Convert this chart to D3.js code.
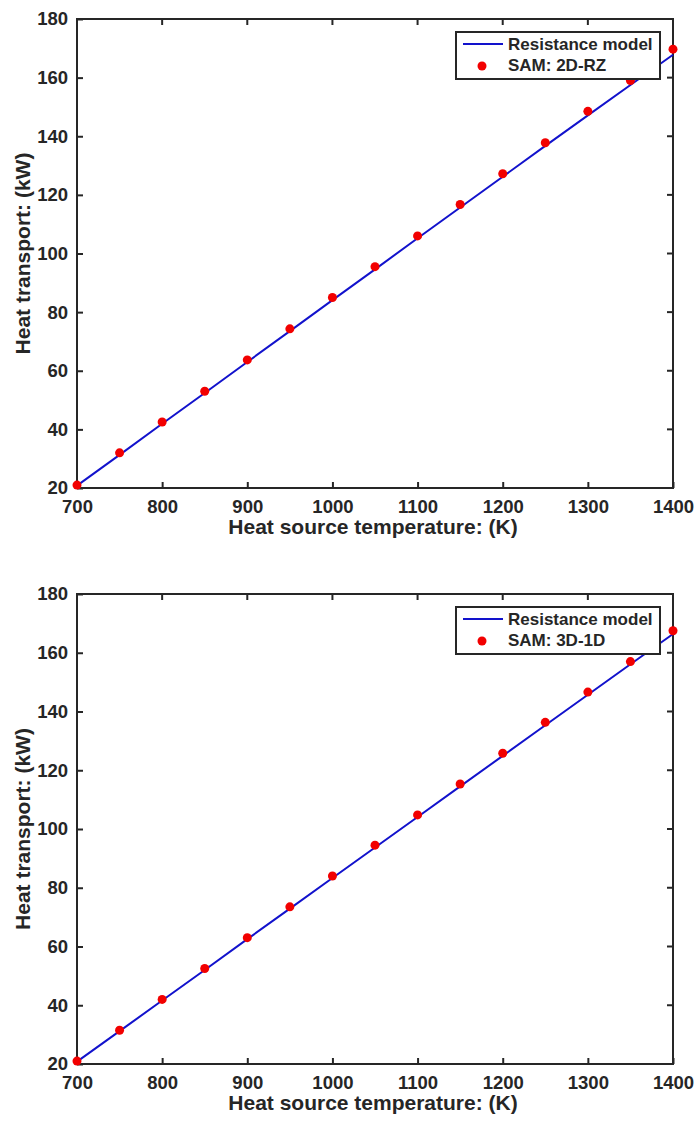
<!DOCTYPE html>
<html>
<head>
<meta charset="utf-8">
<script src="https://cdn.jsdelivr.net/npm/d3@7"></script>
<style>
  body { margin: 0; background: #fff; }
  text { font-family: "Liberation Sans", Arial, sans-serif; font-weight: bold; fill: #262626; }
</style>
</head>
<body>
<svg id="chart" width="698" height="1121"></svg>
<script>
// source temperatures (K)
const temps = [700, 750, 800, 850, 900, 950, 1000, 1050, 1100, 1150, 1200, 1250, 1300, 1350, 1400];

// top panel: 2D-RZ
const modelTop = [20.8, 31.3, 41.9, 52.4, 63.0, 73.5, 84.1, 94.6, 105.2, 115.7, 126.2, 136.7, 147.1, 157.5, 167.8];
const samTop   = [21.0, 32.0, 42.5, 53.0, 63.7, 74.3, 85.0, 95.5, 106.0, 116.7, 127.2, 137.8, 148.5, 159.0, 169.7];

// bottom panel: 3D-1D
const modelBottom = [20.8, 31.2, 41.6, 52.0, 62.5, 72.9, 83.3, 93.7, 104.1, 114.5, 124.9, 135.3, 145.7, 156.1, 166.4];
const samBottom   = [21.0, 31.5, 42.0, 52.5, 63.0, 73.5, 84.0, 94.5, 104.8, 115.3, 125.8, 136.3, 146.6, 157.0, 167.5];

const xTicks = [700, 800, 900, 1000, 1100, 1200, 1300, 1400];
const yTicks = [20, 40, 60, 80, 100, 120, 140, 160, 180];

const svg = d3.select("#chart");

function drawPanel(top, bottom, model, sam, samLabel) {
    const left = 77, right = 673;
    const g = svg.append("g");

    const x = d3.scaleLinear().domain([700, 1400]).range([left, right]);
    const y = d3.scaleLinear().domain([20, 180]).range([bottom, top]);

    // plot box
    g.append("rect")
        .attr("x", left).attr("y", top)
        .attr("width", right - left).attr("height", bottom - top)
        .attr("fill", "none").attr("stroke", "#262626").attr("stroke-width", 2);

    // axes with inward ticks
    const xAxis = d3.axisBottom(x).tickValues(xTicks).tickFormat(d3.format("d"))
        .tickSizeInner(-6).tickSizeOuter(0).tickPadding(11);
    const gx = g.append("g").attr("transform", `translate(0,${bottom})`).call(xAxis);
    const yAxis = d3.axisLeft(y).tickValues(yTicks).tickFormat(d3.format("d"))
        .tickSizeInner(-6).tickSizeOuter(0).tickPadding(9);
    const gy = g.append("g").attr("transform", `translate(${left},0)`).call(yAxis);

    [gx, gy].forEach(a => {
        a.select(".domain").remove();
        a.selectAll(".tick line").attr("stroke", "#262626").attr("stroke-width", 2);
        a.selectAll(".tick text").style("font-size", "18.5px").attr("fill", "#262626");
    });
    gx.selectAll(".tick text").attr("dy", "0.75em");

    // top/right ticks
    g.selectAll(".xt").data(xTicks.slice(1, -1)).enter().append("line")
        .attr("x1", d => x(d)).attr("x2", d => x(d))
        .attr("y1", top).attr("y2", top + 6)
        .attr("stroke", "#262626").attr("stroke-width", 2);
    g.selectAll(".yt").data(yTicks.slice(1, -1)).enter().append("line")
        .attr("x1", right).attr("x2", right - 6)
        .attr("y1", d => y(d)).attr("y2", d => y(d))
        .attr("stroke", "#262626").attr("stroke-width", 2);

    // axis labels
    g.append("text")
        .attr("x", (left + right) / 2 - 2).attr("y", bottom + 46)
        .attr("text-anchor", "middle").style("font-size", "21px")
        .text("Heat source temperature: (K)");
    g.append("text")
        .attr("transform", `translate(30,${(top + bottom) / 2}) rotate(-90)`)
        .attr("text-anchor", "middle").style("font-size", "21px")
        .text("Heat transport: (kW)");

    // model line
    const line = d3.line().x((d, i) => x(temps[i])).y(d => y(d));
    g.append("path").datum(model)
        .attr("d", line)
        .attr("fill", "none").attr("stroke", "#1212cc").attr("stroke-width", 2);

    // SAM points
    g.selectAll(".pt").data(sam).enter().append("circle")
        .attr("cx", (d, i) => x(temps[i])).attr("cy", d => y(d))
        .attr("r", 4.5).attr("fill", "#f20000");

    // legend
    const lx = 456, ly = top + 13;
    const lg = g.append("g");
    lg.append("rect")
        .attr("x", lx).attr("y", ly).attr("width", 204).attr("height", 47)
        .attr("fill", "#fff").attr("stroke", "#262626").attr("stroke-width", 2);
    lg.append("line")
        .attr("x1", lx + 7).attr("x2", lx + 47)
        .attr("y1", ly + 12).attr("y2", ly + 12)
        .attr("stroke", "#1212cc").attr("stroke-width", 2);
    lg.append("circle")
        .attr("cx", lx + 26).attr("cy", ly + 34).attr("r", 4.5).attr("fill", "#f20000");
    lg.append("text").attr("x", lx + 52).attr("y", ly + 18)
        .style("font-size", "17px").text("Resistance model");
    lg.append("text").attr("x", lx + 52).attr("y", ly + 39)
        .style("font-size", "17px").text(samLabel);
}

drawPanel(19, 488, modelTop, samTop, "SAM: 2D-RZ");
drawPanel(594, 1064, modelBottom, samBottom, "SAM: 3D-1D");
</script>
</body>
</html>
